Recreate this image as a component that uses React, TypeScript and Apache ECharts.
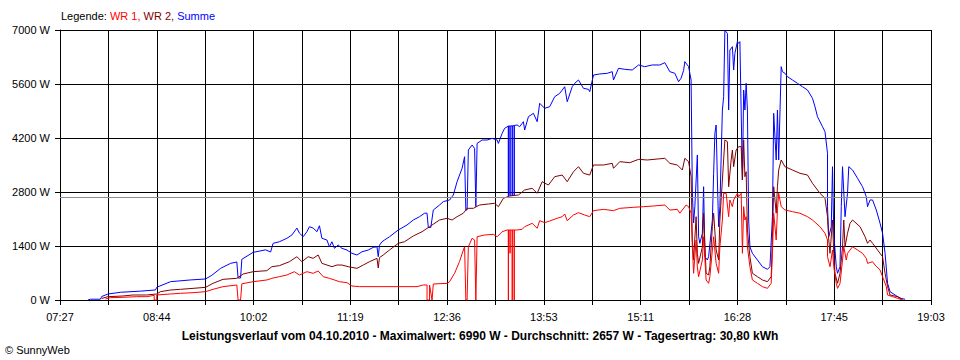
import React, { useEffect, useRef } from "react";
import * as echarts from "echarts";

const xLabels = ["07:27", "08:44", "10:02", "11:19", "12:36", "13:53", "15:11", "16:28", "17:45", "19:03"];
const yTicks = [0, 1400, 2800, 4200, 5600, 7000];
const averageW = 2657;
const titleText =
  "Leistungsverlauf vom 04.10.2010 - Maximalwert: 6990 W - Durchschnitt: 2657 W - Tagesertrag: 30,80 kWh";
const seriesNames = ["WR 1", "WR 2", "Summe"];

const wr1: [string, number][] = [
  ["08:03", 26], ["08:07", 60], ["08:17", 70], ["08:28", 86], ["08:36", 86], ["08:42", 120], ["08:42", 0], ["08:44", 0], ["08:44", 130],
  ["08:55", 156], ["09:03", 173], ["09:13", 190], ["09:23", 216], ["09:29", 277], ["09:37", 346], ["09:48", 389], ["09:49", 0], ["09:51", 0],
  ["09:52", 420], ["10:01", 475], ["10:12", 519], ["10:16", 562], ["10:22", 605], ["10:28", 648], ["10:34", 734], ["10:38", 648], ["10:44", 734],
  ["10:49", 692], ["10:53", 752], ["10:57", 605], ["11:02", 562], ["11:06", 519], ["11:10", 475], ["11:16", 450], ["11:20", 363], ["11:26", 346],
  ["11:40", 346], ["11:56", 346], ["12:12", 346], ["12:17", 389], ["12:20", 389], ["12:20", 0], ["12:22", 0], ["12:22", 389], ["12:24", 0],
  ["12:25", 415], ["12:36", 432],
  ["12:38", 475], ["12:42", 692], ["12:46", 1000], ["12:49", 1296], ["12:50", 1380], ["12:51", 0], ["12:52", 0], ["12:53", 1380], ["12:56", 1600],
  ["12:58", 1555], ["12:59", 0], ["13:00", 1640], ["13:06", 1685], ["13:13", 1703], ["13:16", 1640], ["13:20", 1770], ["13:24", 1815],
  ["13:25:00", 1815], ["13:25:00", 0], ["13:25:00", 1815], ["13:26:20", 1815], ["13:26:20", 1210], ["13:26:20", 1815],
  ["13:28:05", 1815], ["13:28:05", 0], ["13:28:05", 1815], ["13:29:40", 1815], ["13:29:40", 0], ["13:29:40", 1815],
  ["13:32", 1815], ["13:36", 1833], ["13:38", 1900], ["13:44", 1988], ["13:48", 1860], ["13:50", 2056],
  ["13:54", 2005], ["13:58", 2048], ["14:04", 2118], ["14:08", 2160], ["14:10", 2230], ["14:12", 2056], ["14:17", 2204], ["14:21", 2264],
  ["14:26", 2204], ["14:30", 2160], ["14:33", 2316], ["14:41", 2350], ["14:49", 2316], ["14:54", 2377], ["15:05", 2403], ["15:13", 2420],
  ["15:21", 2437], ["15:30", 2463], ["15:34", 2333], ["15:40", 2350], ["15:42", 2250], ["15:47", 2463], ["15:49", 2420], ["15:51", 2250],
  ["15:52", 1380], ["15:53", 692], ["15:55", 1555], ["15:56", 864], ["15:57", 605], ["16:00", 1037], ["16:01", 1640], ["16:03", 519],
  ["16:05", 432], ["16:06", 605], ["16:08", 1296], ["16:09", 1640], ["16:11", 950], ["16:13", 692], ["16:14", 1380], ["16:16", 2074],
  ["16:17", 2766], ["16:19", 2766], ["16:21", 2160], ["16:22", 2593], ["16:24", 2420], ["16:25", 2593], ["16:28", 2766], ["16:29", 2678],
  ["16:31", 2766], ["16:32", 1210], ["16:33", 2420], ["16:34", 2074], ["16:35", 2160], ["16:36", 1380], ["16:38", 864], ["16:40", 519],
  ["16:44", 432], ["16:48", 346], ["16:52", 302], ["16:55", 432], ["16:56", 1210], ["16:57", 2250], ["16:59", 1555], ["17:00", 2333],
  ["17:01", 2766], ["17:03", 2420], ["17:06", 2333], ["17:12", 2290], ["17:18", 2250], ["17:24", 2160], ["17:28", 2074], ["17:34", 1900],
  ["17:38", 1730], ["17:40", 1555], ["17:40", 1122], ["17:42", 864], ["17:44", 1296], ["17:45", 864], ["17:47", 432], ["17:48", 302],
  ["17:50", 432], ["17:52", 1037], ["17:53", 1380], ["17:55", 1037], ["17:56", 1210], ["18:00", 1380], ["18:04", 1296], ["18:08", 1210],
  ["18:11", 1080], ["18:12", 950], ["18:16", 993], ["18:18", 907], ["18:22", 778], ["18:24", 605], ["18:27", 346], ["18:28", 130],
  ["18:32", 86], ["18:36", 44], ["18:40", 0],
];

const wr2: [string, number][] = [
  ["08:00", 40], ["08:05", 86], ["08:17", 104], ["08:25", 130], ["08:36", 130], ["08:44", 156], ["08:47", 216], ["08:55", 259], ["09:03", 277],
  ["09:13", 302], ["09:23", 328], ["09:29", 432], ["09:37", 536], ["09:48", 562], ["09:53", 674], ["10:01", 734], ["10:12", 760], ["10:16", 864],
  ["10:22", 890], ["10:30", 993], ["10:36", 1122], ["10:40", 993], ["10:45", 1122], ["10:49", 1080], ["10:53", 1167], ["10:56", 950],
  ["11:00", 907], ["11:04", 864], ["11:08", 907], ["11:12", 907], ["11:17", 864], ["11:24", 821], ["11:29", 907], ["11:34", 993],
  ["11:40", 1080], ["11:41", 830], ["11:42", 1100], ["11:45", 1167], ["11:50", 1296], ["11:57", 1470], ["12:02", 1510], ["12:09", 1660],
  ["12:16", 1770], ["12:22", 1900], ["12:30", 2074], ["12:36", 2118], ["12:40", 2074], ["12:44", 2160], ["12:49", 2250], ["12:52", 2377],
  ["12:57", 2377], ["13:02", 2463], ["13:09", 2489], ["13:14", 2507], ["13:17", 2420], ["13:21", 2637], ["13:26", 2696], ["13:33", 2722],
  ["13:38", 2852], ["13:44", 2896], ["13:48", 2766], ["13:52", 3067], ["13:57", 2981], ["14:02", 3197], ["14:08", 3240], ["14:12", 3067],
  ["14:17", 3326], ["14:21", 3456], ["14:25", 3285], ["14:30", 3240], ["14:33", 3500], ["14:41", 3500], ["14:48", 3544], ["14:49", 3415],
  ["14:54", 3586], ["15:02", 3560], ["15:09", 3647], ["15:16", 3630], ["15:24", 3655], ["15:30", 3673], ["15:34", 3544], ["15:40", 3500],
  ["15:44", 3370], ["15:46", 3673], ["15:49", 3586], ["15:51", 3197], ["15:52", 1555], ["15:53", 1037], ["15:55", 2160], ["15:56", 1210],
  ["15:57", 950], ["16:00", 1380], ["16:01", 2250], ["16:03", 692], ["16:05", 648], ["16:06", 864], ["16:08", 1900], ["16:09", 2250],
  ["16:11", 1296], ["16:13", 1037], ["16:14", 2074], ["16:16", 3111], ["16:17", 3630], ["16:18", 4148], ["16:20", 4105], ["16:21", 2937],
  ["16:23", 3630], ["16:24", 3889], ["16:25", 3456], ["16:27", 3889], ["16:29", 3975], ["16:31", 3975], ["16:32", 3111], ["16:33", 4148],
  ["16:34", 3197], ["16:35", 3326], ["16:36", 1815], ["16:38", 1122], ["16:40", 692], ["16:44", 605], ["16:48", 519], ["16:52", 475],
  ["16:55", 605], ["16:56", 1640], ["16:57", 2937], ["16:59", 2250], ["17:00", 2937], ["17:01", 3370], ["17:03", 3630], ["17:06", 3456],
  ["17:12", 3370], ["17:18", 3285], ["17:24", 3240], ["17:28", 3025], ["17:34", 2766], ["17:38", 2637], ["17:40", 2160], ["17:41", 1555],
  ["17:42", 1210], ["17:44", 2074], ["17:45", 1210], ["17:46", 692], ["17:48", 432], ["17:50", 692], ["17:52", 1380], ["17:53", 2074],
  ["17:54", 1380], ["17:56", 1730], ["17:58", 1988], ["18:00", 2074], ["18:06", 1900], ["18:10", 1640], ["18:12", 1470], ["18:14", 1555],
  ["18:16", 1470], ["18:20", 1296], ["18:24", 1122], ["18:26", 692], ["18:28", 346], ["18:30", 130], ["18:36", 86], ["18:40", 20],
];

const summe: [string, number][] = [
  ["07:49", 0], ["07:51", 20], ["07:59", 20], ["08:00", 90], ["08:05", 155], ["08:15", 200], ["08:31", 230], ["08:43", 260], ["08:44", 330],
  ["08:55", 475], ["09:11", 520], ["09:23", 545], ["09:28", 640], ["09:35", 820], ["09:43", 950], ["09:48", 985], ["09:49", 570], ["09:51", 570],
  ["09:52", 1055], ["10:01", 1235], ["10:11", 1300], ["10:15", 1245], ["10:17", 1470], ["10:22", 1510], ["10:28", 1600], ["10:32", 1685],
  ["10:36", 1865], ["10:38", 1735], ["10:41", 1640], ["10:44", 1770], ["10:46", 1900], ["10:49", 1865], ["10:52", 1770], ["10:54", 1925],
  ["10:56", 1600], ["11:00", 1555], ["11:02", 1380], ["11:04", 1510], ["11:06", 1340], ["11:09", 1425], ["11:12", 1340], ["11:16", 1296],
  ["11:20", 1210], ["11:24", 1167], ["11:28", 1250], ["11:33", 1296], ["11:37", 1365], ["11:40", 1380], ["11:41", 1122], ["11:42", 1420],
  ["11:44", 1510], ["11:46", 1555], ["11:50", 1640], ["11:57", 1815], ["12:04", 1945], ["12:09", 2074], ["12:14", 2160], ["12:18", 2250],
  ["12:20", 2250], ["12:21", 1880], ["12:23", 1880], ["12:25", 2333], ["12:30", 2463], ["12:33", 2550], ["12:38", 2593], ["12:41", 2722],
  ["12:44", 3067], ["12:48", 3415], ["12:50", 3715], ["12:51", 2333], ["12:52", 2333], ["12:53", 3889], ["12:56", 4018], ["12:58", 3930],
  ["12:59", 2420], ["13:00", 4060], ["13:04", 4148], ["13:08", 4148], ["13:12", 4190], ["13:16", 4148], ["13:17", 4060], ["13:20", 4320],
  ["13:22", 4450], ["13:25:00", 4510], ["13:25:00", 2700], ["13:25:00", 4510], ["13:26:20", 4510], ["13:26:20", 2700], ["13:26:20", 4510],
  ["13:28:05", 4515], ["13:28:05", 2700], ["13:28:05", 4515], ["13:29:40", 4520], ["13:29:40", 2700], ["13:29:40", 4525],
  ["13:32", 4537], ["13:34", 4493], ["13:37", 4623],
  ["13:38", 4407], ["13:41", 4752], ["13:45", 4840], ["13:48", 4623], ["13:50", 5100], ["13:54", 4970], ["13:58", 5012], ["14:02", 5270],
  ["14:06", 5358], ["14:10", 5530], ["14:12", 5140], ["14:16", 5530], ["14:18", 5618], ["14:21", 5704], ["14:25", 5488], ["14:29", 5462],
  ["14:30", 5400], ["14:33", 5833], ["14:38", 5860], ["14:44", 5877], ["14:48", 5920], ["14:49", 5704], ["14:53", 6007], ["14:58", 5980],
  ["15:04", 5963], ["15:09", 6093], ["15:14", 6050], ["15:20", 6093], ["15:26", 6093], ["15:30", 6153], ["15:34", 5920], ["15:38", 5877],
  ["15:41", 5660], ["15:43", 5750], ["15:45", 5950], ["15:46", 6180], ["15:49", 6050], ["15:51", 5704], ["15:52", 2774], ["15:53", 1996],
  ["15:54", 2420], ["15:56", 3760], ["15:57", 1640], ["15:58", 1470], ["16:00", 1730], ["16:01", 2937], ["16:02", 1122], ["16:04", 1037],
  ["16:05", 1122], ["16:08", 2074], ["16:09", 3285], ["16:10", 4320], ["16:11", 4537], ["16:12", 3111], ["16:13", 1900], ["16:14", 2420],
  ["16:16", 4926], ["16:17", 5270], ["16:18", 6990], ["16:20", 6913], ["16:21", 4926], ["16:22", 6481], ["16:24", 6568], ["16:25", 5963],
  ["16:26", 6396], ["16:28", 6697], ["16:29", 6655], ["16:30", 6697], ["16:32", 3111], ["16:33", 5444], ["16:34", 4926], ["16:35", 5618],
  ["16:36", 4926], ["16:37", 2074], ["16:38", 1380], ["16:40", 1210], ["16:44", 1037], ["16:48", 864], ["16:52", 795], ["16:54", 864],
  ["16:56", 2160], ["16:57", 4840], ["16:59", 3630], ["17:00", 4926], ["17:01", 3630], ["17:03", 6050], ["17:04", 5920], ["17:06", 5877],
  ["17:08", 5790], ["17:12", 5704], ["17:16", 5618], ["17:20", 5530], ["17:24", 5444], ["17:28", 5230], ["17:30", 5012], ["17:32", 4752],
  ["17:36", 4493], ["17:38", 4363], ["17:40", 3803], ["17:40", 2420], ["17:41", 1640], ["17:43", 1900], ["17:44", 3456], ["17:45", 1730],
  ["17:47", 864], ["17:48", 692], ["17:50", 864], ["17:51", 2420], ["17:52", 3456], ["17:54", 2160], ["17:56", 2766], ["17:57", 3456],
  ["18:00", 3370], ["18:04", 3155], ["18:08", 2937], ["18:11", 2678], ["18:12", 2420], ["18:14", 2593], ["18:16", 2593], ["18:19", 2333],
  ["18:22", 1988], ["18:24", 1730], ["18:26", 1210], ["18:28", 432], ["18:30", 216], ["18:34", 130], ["18:38", 44], ["18:42", 20],
];

// axis runs from 07:26:42 to 19:02:42 (18 grid steps)
const AXIS_START_SEC = 7 * 3600 + 26 * 60 + 42;
const AXIS_SPAN_SEC = 41760;
const GRID_STEPS = 18;
const STEP = AXIS_SPAN_SEC / GRID_STEPS;

function toAxis(t: string): number {
  const [h, m, s] = t.split(":").map(Number);
  return h * 3600 + m * 60 + (s || 0) - AXIS_START_SEC;
}
const conv = (d: [string, number][]) => d.map(([t, v]) => [toAxis(t), v]);

const FONT = "'Liberation Sans', Arial, sans-serif";

export default function App() {
  const ref = useRef<HTMLDivElement>(null);
  useEffect(() => {
    document.body.style.margin = "0";
    if (!ref.current) return;
    const chart = echarts.init(ref.current, undefined, { renderer: "svg" });
    const lineCommon = {
      type: "line" as const,
      showSymbol: false,
      symbol: "none",
      silent: true,
    };
    chart.setOption({
      animation: false,
      backgroundColor: "#ffffff",
      textStyle: { fontFamily: FONT },
      grid: { left: 60, right: 29, top: 30, bottom: 60, containLabel: false },
      xAxis: {
        type: "value",
        min: 0,
        max: AXIS_SPAN_SEC,
        interval: STEP,
        axisLine: { show: true, lineStyle: { color: "#000", width: 1 } },
        axisTick: { show: true, length: 5, lineStyle: { color: "#000", width: 1 } },
        splitLine: { show: true, lineStyle: { color: "#000", width: 1 } },
        axisLabel: {
          show: true,
          showMinLabel: true,
          showMaxLabel: true,
          margin: 11,
          color: "#000",
          fontSize: 11,
          fontFamily: FONT,
          formatter: (v: number) => {
            const k = Math.round(v / STEP);
            return k % 2 === 0 ? xLabels[k / 2] ?? "" : "";
          },
        },
      },
      yAxis: {
        type: "value",
        min: yTicks[0],
        max: yTicks[yTicks.length - 1],
        interval: yTicks[1] - yTicks[0],
        axisLine: { show: true, lineStyle: { color: "#000", width: 1 } },
        axisTick: { show: true, length: 5, lineStyle: { color: "#000", width: 1 } },
        splitLine: { show: true, lineStyle: { color: "#000", width: 1 } },
        axisLabel: {
          margin: 10,
          color: "#000",
          fontSize: 11,
          fontFamily: FONT,
          formatter: (v: number) => `${v} W`,
        },
      },
      series: [
        {
          ...lineCommon,
          name: seriesNames[2],
          data: conv(summe),
          lineStyle: { color: "#0000ff", width: 1 },
          z: 3,
          markLine: {
            silent: true,
            symbol: "none",
            label: { show: false },
            lineStyle: { color: "#8c8c8c", width: 1, type: "solid" },
            data: [{ yAxis: averageW }],
          },
        },
        {
          ...lineCommon,
          name: seriesNames[1],
          data: conv(wr2),
          lineStyle: { color: "#800000", width: 1 },
          z: 4,
        },
        {
          ...lineCommon,
          name: seriesNames[0],
          data: conv(wr1),
          lineStyle: { color: "#ff0000", width: 1 },
          z: 5,
        },
      ],
      graphic: [
        {
          type: "text",
          left: 61,
          top: 10,
          style: {
            text: `{k|Legende: }{a|${seriesNames[0]}, }{b|${seriesNames[1]}, }{c|${seriesNames[2]}}`,
            fontFamily: FONT,
            fontSize: 11,
            rich: {
              k: { fill: "#000", fontSize: 11, fontFamily: FONT },
              a: { fill: "#ff0000", fontSize: 11, fontFamily: FONT },
              b: { fill: "#800000", fontSize: 11, fontFamily: FONT },
              c: { fill: "#0000ff", fontSize: 11, fontFamily: FONT },
            },
          },
        },
        {
          type: "text",
          x: 480,
          y: 336,
          style: {
            text: titleText,
            fontFamily: FONT,
            fontSize: 12,
            fontWeight: "bold",
            fill: "#000",
            align: "center",
            verticalAlign: "middle",
          },
        },
        {
          type: "text",
          x: 5,
          y: 350,
          style: {
            text: "© SunnyWeb",
            fontFamily: FONT,
            fontSize: 11,
            fill: "#000",
            align: "left",
            verticalAlign: "middle",
          },
        },
      ],
    });
    return () => chart.dispose();
  }, []);
  return <div ref={ref} style={{ width: 960, height: 360, background: "#fff" }} />;
}
